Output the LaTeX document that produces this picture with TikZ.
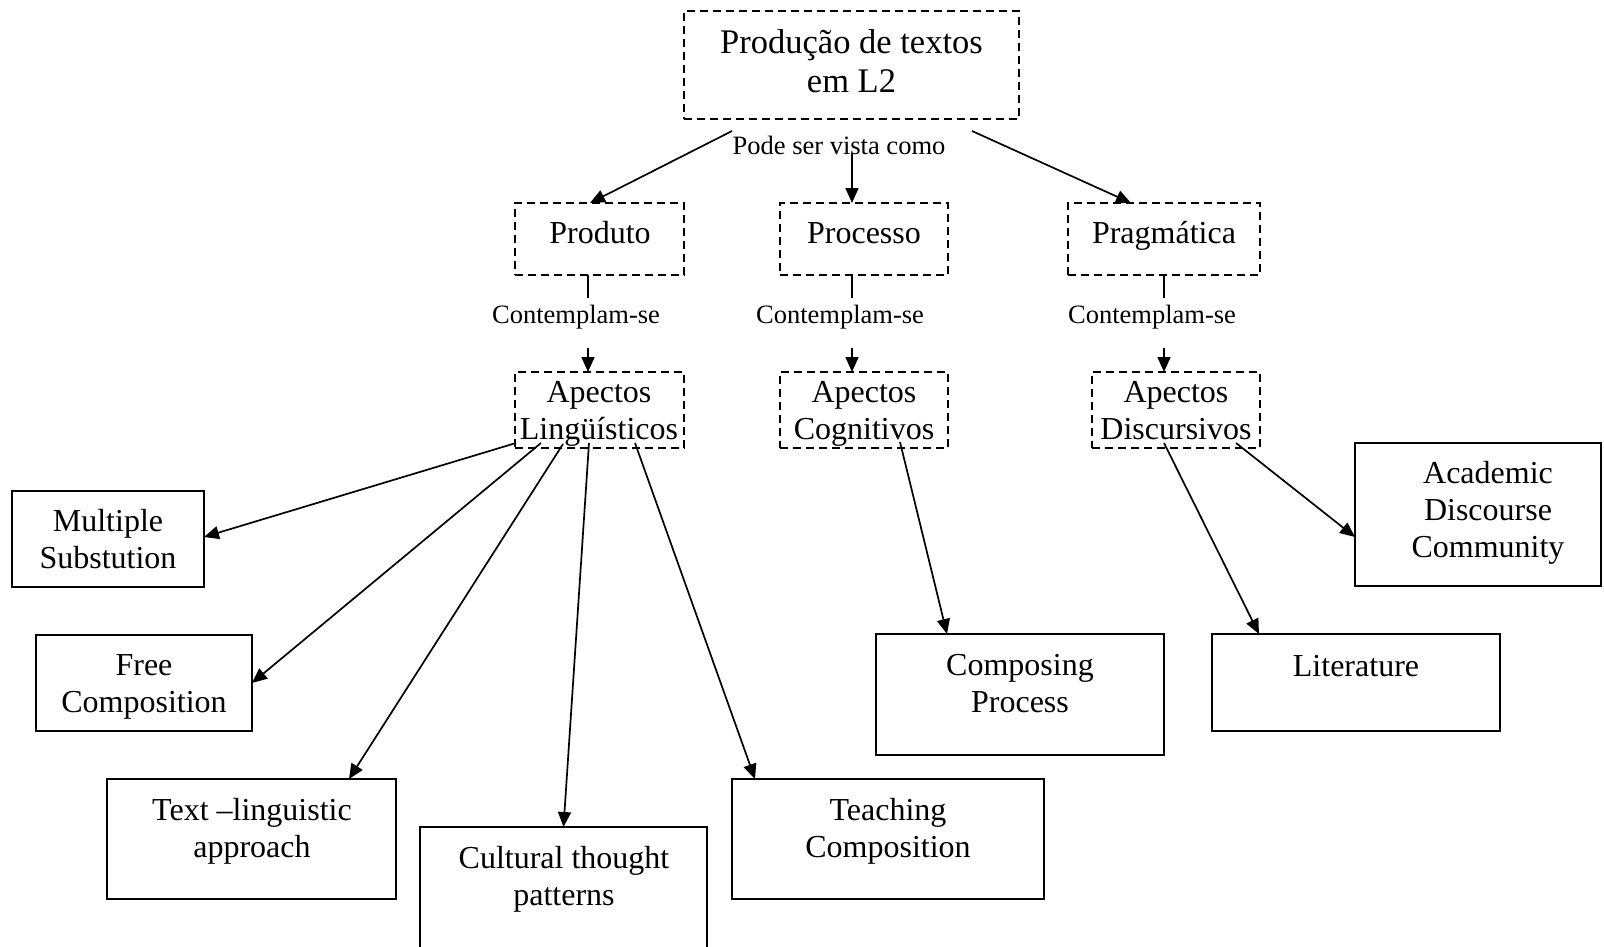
\documentclass[tikz,border=0pt]{standalone}
\usepackage{fontspec}
\setmainfont{Liberation Serif}
\usetikzlibrary{arrows.meta,calc}
\begin{document}
\begin{tikzpicture}[x=1pt,y=-1pt,
  dbox/.style={draw, dash pattern=on 8pt off 5pt, line width=1.6pt, inner sep=0pt, outer sep=0pt, anchor=north west},
  sbox/.style={draw, line width=1.9pt, inner sep=0pt, outer sep=0pt, anchor=north west},
  txt/.style={inner sep=0pt, align=center, font=\fontsize{32}{37}\selectfont},
  big/.style={inner sep=0pt, align=center, font=\fontsize{34.5}{39}\selectfont},
  lbl/.style={inner sep=0pt, font=\fontsize{26.5}{30}\selectfont},
  arr/.style={line width=1.7pt, -{Triangle[length=15pt,width=13pt]}},
  ln/.style={line width=1.7pt},
]
\useasboundingbox (0,0) rectangle (1604,946);

% dashed boxes
\node[dbox, minimum width=335pt, minimum height=108pt] (top) at (684,11) {};
\node[dbox, minimum width=169pt, minimum height=72pt] (prod) at (515,203) {};
\node[dbox, minimum width=168pt, minimum height=72pt] (proc) at (780,203) {};
\node[dbox, minimum width=192pt, minimum height=72pt] (prag) at (1068,203) {};
\node[dbox, minimum width=169pt, minimum height=76pt] (ling) at (515,372) {};
\node[dbox, minimum width=168pt, minimum height=76pt] (cog) at (780,372) {};
\node[dbox, minimum width=168pt, minimum height=76pt] (disc) at (1092,372) {};

% solid boxes
\node[sbox, minimum width=192pt, minimum height=96pt] (ms) at (12,491) {};
\node[sbox, minimum width=216pt, minimum height=96pt] (fc) at (36,635) {};
\node[sbox, minimum width=289pt, minimum height=120pt] (tl) at (107,779) {};
\node[sbox, minimum width=287pt, minimum height=160pt] (ct) at (420,827) {};
\node[sbox, minimum width=312pt, minimum height=120pt] (tc) at (732,779) {};
\node[sbox, minimum width=288pt, minimum height=121pt] (cp) at (876,634) {};
\node[sbox, minimum width=288pt, minimum height=97pt] (lit) at (1212,634) {};
\node[sbox, minimum width=246pt, minimum height=143pt] (adc) at (1355,443) {};

% texts
\node[big] (topT) at (851.5,60.7) {Produção de textos\\em L2};
\node[lbl, anchor=base] (pode) at (839,154) {Pode ser vista como};
\node[txt, anchor=base] (prodT) at (600,243) {Produto};
\node[txt, anchor=base] (procT) at (864,243) {Processo};
\node[txt, anchor=base] (pragT) at (1164,243) {Pragmática};
\node[lbl, anchor=base] (cs1) at (576,323) {Contemplam-se};
\node[lbl, anchor=base] (cs2) at (840,323) {Contemplam-se};
\node[lbl, anchor=base] (cs3) at (1152,323) {Contemplam-se};
\node[txt] (lingT) at (599,414) {Apectos\\Lingüísticos};
\node[txt] (cogT) at (864,414) {Apectos\\Cognitivos};
\node[txt] (discT) at (1176,410.5) {Apectos\\Discursivos};
\node[txt] (msT) at (108,539) {Multiple\\Substution};
\node[txt] (fcT) at (144,687) {Free\\Composition};
\node[txt] (tlT) at (252,831.5) {Text –linguistic\\approach};
\node[txt] (ctT) at (564,879) {Cultural thought\\patterns};
\node[txt] (tcT) at (888,831.5) {Teaching\\Composition};
\node[txt] (cpT) at (1020,684) {Composing\\Process};
\node[txt, anchor=base] (litT) at (1356,676.5) {Literature};
\node[txt] (adcT) at (1488,513) {Academic\\Discourse\\Community};

% top connectors
\draw[arr] ($(top.south)+(-119.5,12)$) -- ($(prod.north)+(-9.5,0)$);
\draw[arr] ($(top.south)+(0.5,34)$) -- ($(proc.north)+(-12,0)$);
\draw[arr] ($(top.south)+(120.5,12)$) -- ($(prag.north)+(-33,0)$);

% Contemplam-se connectors
\draw[ln] ($(prod.south)+(-11.5,0)$) -- ++(0,23);
\draw[arr] ($(ling.north)+(-11.5,-24)$) -- ($(ling.north)+(-11.5,0)$);
\draw[ln] ($(proc.south)+(-12,0)$) -- ++(0,23);
\draw[arr] ($(cog.north)+(-12,-24)$) -- ($(cog.north)+(-12,0)$);
\draw[ln] (prag.south) -- ++(0,23);
\draw[arr] ($(disc.north)+(-12,-24)$) -- ($(disc.north)+(-12,0)$);

% fan from Linguisticos
\draw[arr] ($(ling.south west)+(1,-5)$) -- ($(ms.east)+(0,-2)$);
\draw[arr] ($(ling.south west)+(26,-5)$) -- (fc.east);
\draw[arr] ($(ling.south west)+(48,-4)$) -- ($(tl.north)+(97.5,0)$);
\draw[arr] ($(ling.south west)+(74,-5)$) -- (ct.north);
\draw[arr] ($(ling.south west)+(120,-5)$) -- ($(tc.north west)+(23,0)$);

% Cognitivos
\draw[arr] ($(cog.south west)+(120,-6)$) -- ($(cp.north west)+(71,0)$);

% Discursivos
\draw[arr] ($(disc.south west)+(72,-5)$) -- ($(lit.north west)+(47,0)$);
\draw[arr] ($(disc.south west)+(144,-5)$) -- ($(adc.north west)+(0,94)$);
\end{tikzpicture}
\end{document}
